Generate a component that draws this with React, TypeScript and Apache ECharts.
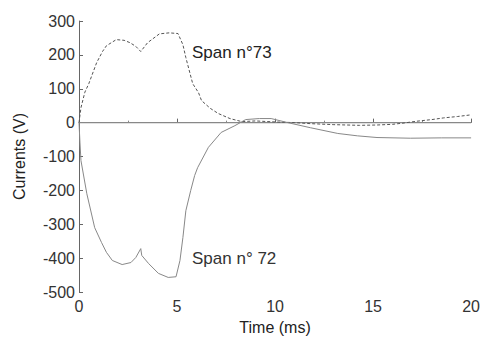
import React, { useEffect, useRef } from "react";
import * as echarts from "echarts";

const span73Time = [0, 0.1, 0.3, 0.5, 0.9, 1.2, 1.4, 1.9, 2.3, 2.6, 2.9, 3.15, 3.5, 4.1, 4.6, 5.05, 5.3, 5.45, 5.8, 6.1, 6.25, 6.7, 7.1, 7.7, 8.3, 9, 10, 11, 11.8, 13, 14.3, 15.2, 16, 16.6, 17.2, 18, 18.6, 19.3, 20];
const span73Values = [0, 44, 90, 115, 177, 210, 227, 245, 243, 236, 225, 210, 236, 262, 265, 263, 230, 192, 115, 88, 65, 42, 27, 12, 3, 5, 2, 0, -3, -6, -8, -7, -5, -1, 4, 9, 14, 18, 23];

const span72Time = [0, 0.05, 0.1, 0.4, 0.8, 1.15, 1.4, 1.7, 2.2, 2.65, 2.9, 3.15, 3.2, 3.55, 4.05, 4.55, 4.95, 5.15, 5.3, 5.45, 5.7, 5.9, 6.05, 6.6, 7.25, 7.95, 8.5, 9.2, 9.8, 10.65, 11.8, 13.2, 14.2, 15.2, 16.9, 18.5, 20];
const span72Values = [0, -60, -112, -210, -310, -354, -383, -407, -419, -413, -398, -372, -392, -416, -445, -457, -455, -407, -339, -260, -200, -156, -133, -73, -29, -9, 9, 12, 12, 0, -15, -32, -39, -44, -46, -45, -45];

const zeroTime = [0, 20];
const zeroValues = [0, 0];

const xTicks = [0, 5, 10, 15, 20];
const yTicks = [-500, -400, -300, -200, -100, 0, 100, 200, 300];

const pairs = (t: number[], v: number[]) => t.map((x, i) => [x, v[i]]);

export default function App() {
  const ref = useRef<HTMLDivElement>(null);
  useEffect(() => {
    if (!ref.current) return;
    const chart = echarts.init(ref.current, null, { renderer: "svg" });
    const font = "Liberation Sans, Arial, sans-serif";
    chart.setOption({
      animation: false,
      backgroundColor: "#fff",
      grid: { left: 79, right: 9, top: 21, bottom: 53, containLabel: false },
      xAxis: {
        type: "value",
        min: xTicks[0],
        max: xTicks[xTicks.length - 1],
        interval: 5,
        name: "Time (ms)",
        nameLocation: "middle",
        nameGap: 27,
        nameTextStyle: { fontFamily: font, fontSize: 16, color: "#222" },
        axisLine: { lineStyle: { color: "#666", width: 1 } },
        axisTick: { inside: true, length: 4, lineStyle: { color: "#666" } },
        minorTick: { show: true, splitNumber: 2, length: 2, lineStyle: { color: "#888" } },
        axisLabel: { fontFamily: font, fontSize: 16, color: "#333", margin: 6 },
        splitLine: { show: false },
      },
      yAxis: {
        type: "value",
        min: yTicks[0],
        max: yTicks[yTicks.length - 1],
        interval: 100,
        name: "Currents (V)",
        nameLocation: "middle",
        nameGap: 52,
        nameTextStyle: { fontFamily: font, fontSize: 16, color: "#222" },
        axisLine: { show: true, lineStyle: { color: "#666", width: 1 } },
        axisTick: { show: true, inside: true, length: 4, lineStyle: { color: "#666" } },
        axisLabel: { fontFamily: font, fontSize: 16, color: "#333", margin: 4 },
        splitLine: { show: false },
      },
      series: [
        {
          name: "zero",
          type: "line",
          data: pairs(zeroTime, zeroValues),
          symbol: "none",
          lineStyle: { color: "#888", width: 1.2 },
        },
        {
          name: "Span n°73",
          type: "line",
          data: pairs(span73Time, span73Values),
          symbol: "none",
          lineStyle: { color: "#555", width: 1, type: [3, 2] },
        },
        {
          name: "Span n° 72",
          type: "line",
          data: pairs(span72Time, span72Values),
          symbol: "none",
          lineStyle: { color: "#888", width: 1 },
        },
      ],
      graphic: [
        {
          type: "text",
          left: 192,
          top: 44,
          style: { text: "Span n°73", fontFamily: font, fontSize: 17, fill: "#222" },
        },
        {
          type: "text",
          left: 192,
          top: 250,
          style: { text: "Span n° 72", fontFamily: font, fontSize: 17, fill: "#333" },
        },
      ],
    });
    return () => chart.dispose();
  }, []);
  return (
    <div
      ref={ref}
      style={{ position: "fixed", left: 0, top: 0, width: 483, height: 345, background: "#fff" }}
    />
  );
}
